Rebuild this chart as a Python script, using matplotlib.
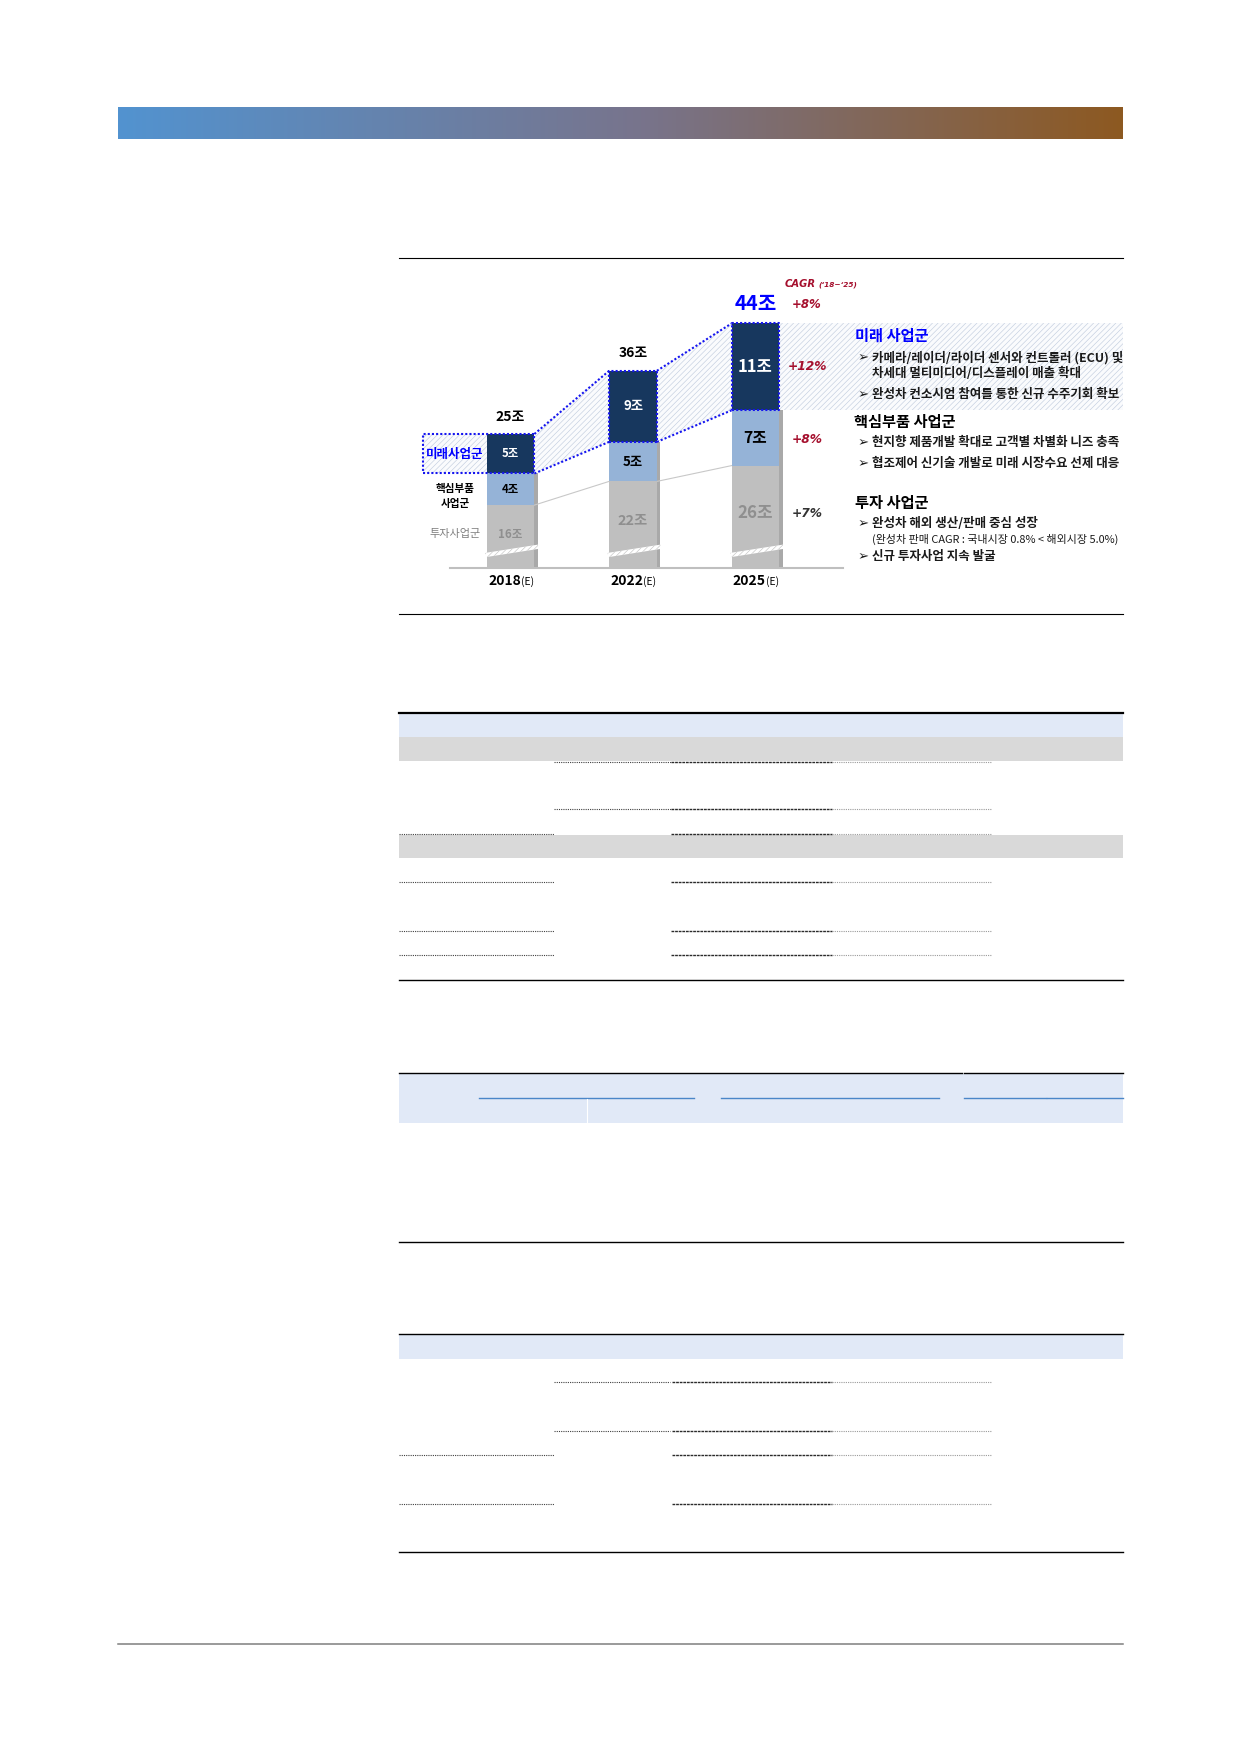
import numpy as np
import matplotlib
matplotlib.use("Agg")
import matplotlib.pyplot as plt
from matplotlib.patches import Polygon, Rectangle

plt.rcParams['font.family'] = ['Noto Sans CJK KR', 'DejaVu Sans']
plt.rcParams['hatch.linewidth'] = 0.45

# 사업군별 매출 (조 원)
years = ['2018', '2022', '2025']
invest = [16, 22, 26]     # 투자사업군
core = [4, 5, 7]          # 핵심부품 사업군
future = [5, 9, 11]       # 미래사업군
totals = [25, 36, 44]
cagr_total = '+8%'
cagr_seg = ['+12%', '+8%', '+7%']   # 미래, 핵심부품, 투자

NAVY = '#17375E'
LBLUE = '#95B3D7'
GRAY = '#BFBFBF'
DOT_BLUE = '#1515F0'
RED = '#A50F2D'
HATCH = '#C3CEDF'

fig = plt.figure(figsize=(12.4, 17.54), dpi=100)

# page background (pixel coords)
bg = fig.add_axes([0, 0, 1, 1])
bg.set_xlim(0, 1240)
bg.set_ylim(1754, 0)
bg.axis('off')

# header gradient bar
stops = np.array([[82, 147, 208], [120, 116, 140], [141, 89, 33]]) / 255
t = np.linspace(0, 1, 400)
grad = np.stack([np.interp(t, [0, 0.52, 1], stops[:, k]) for k in range(3)], axis=-1)
bg.imshow(grad[np.newaxis, :, :], extent=[118, 1123, 139, 107], aspect='auto', zorder=1)

# chart frame lines
bg.plot([399, 1123], [258, 258], color='black', lw=0.8)
bg.plot([399, 1123], [614.3, 614.3], color='black', lw=0.8)


def hline(y, x0, x1, style):
    if style == 'dark':
        bg.plot([x0, x1], [y, y], color='#404040', lw=0.8, ls=(0, (1, 1)))
    elif style == 'dense':
        bg.plot([x0, x1], [y, y], color='#2B2B2B', lw=1.0, ls=(0, (2, 0.6)))
    elif style == 'light':
        bg.plot([x0, x1], [y, y], color='#9A9A9A', lw=0.8, ls=(0, (1, 1)))


# table 1
bg.plot([399, 1123], [712.7, 712.7], color='black', lw=1.6)
bg.add_patch(Rectangle((399, 713.7), 724, 23, color='#E1E9F7', lw=0))
bg.add_patch(Rectangle((399, 736.7), 724, 24, color='#D9D9D9', lw=0))
bg.add_patch(Rectangle((399, 835), 724, 22.7, color='#D9D9D9', lw=0))
for y in [761.5, 809]:
    hline(y, 553.6, 670.7, 'dark')
    hline(y, 670.7, 832, 'dense')
    hline(y, 832, 991, 'light')
for y in [834.3, 882.3, 931, 955.3]:
    hline(y, 399, 553.6, 'dark')
    hline(y, 670.7, 832, 'dense')
    hline(y, 832, 991, 'light')
bg.plot([399, 1123], [980.3, 980.3], color='black', lw=1.0)

# table 2
bg.add_patch(Rectangle((399, 1074), 724, 48.7, color='#E1E9F7', lw=0))
bg.plot([399, 961.7], [1073.3, 1073.3], color='black', lw=1.0)
bg.plot([963.5, 1123], [1073.3, 1073.3], color='black', lw=1.0)
for x0, x1 in [(479, 694), (720.6, 938.8), (963.5, 1045.6), (1047, 1123)]:
    bg.plot([x0, x1], [1098.3, 1098.3], color='#4A86C8', lw=1.0)
bg.plot([586.7, 586.7], [1099, 1122.7], color='white', lw=0.8)
bg.plot([399, 1123], [1241.7, 1241.7], color='black', lw=1.0)

# table 3
bg.plot([399, 1123], [1334.3, 1334.3], color='black', lw=1.0)
bg.add_patch(Rectangle((399, 1335), 724, 23.7, color='#E1E9F7', lw=0))
for y in [1382.3, 1431]:
    hline(y, 553.6, 670, 'dark')
    hline(y, 672, 832, 'dense')
    hline(y, 832, 991, 'light')
for y in [1455.3, 1504.3]:
    hline(y, 399, 553.6, 'dark')
    hline(y, 672, 832, 'dense')
    hline(y, 832, 991, 'light')
bg.plot([399, 1123], [1552.3, 1552.3], color='black', lw=1.0)

# footer line
bg.plot([118, 1123], [1643.8, 1643.8], color='#7F7F7F', lw=1.1)

# ---- chart ----
X0, STEP = 510.5, 122.5       # bar centre of first year, spacing (px)
BASE, UNIT = 568.3, 7.9       # baseline (px), px per 조
BREAK = 0.5                   # broken axis: 투자사업군 drawn at half height

ax = fig.add_axes([399 / 1240, 1 - 614 / 1754, 724 / 1240, 356 / 1754])
ax.set_xlim((399 - X0) / STEP, (1123 - X0) / STEP)
ax.set_ylim((BASE - 614) / UNIT, (BASE - 258) / UNIT)
ax.axis('off')


def cx(px):
    return (px - X0) / STEP


def cy(py):
    return (BASE - py) / UNIT


x = np.arange(len(years))
w = 0.39
g = np.array(invest) * BREAK
c = np.array(core, dtype=float)
f = np.array(future, dtype=float)
bot = g + c
top = g + c + f

ax.bar(x + w / 2 + 0.014, bot, 0.028, color='#A9A9A9', zorder=2)
ax.bar(x, g, w, color=GRAY, zorder=3)
ax.bar(x, c, w, bottom=g, color=LBLUE, zorder=3)
ax.bar(x, f, w, bottom=bot, color=NAVY, zorder=3)

# axis break marks
for i in x:
    xa, xb = i - w / 2 - 0.012, i + w / 2 + 0.03
    ax.add_patch(Polygon([(xa, 1.4), (xb, 2.45), (xb, 3.0), (xa, 1.95)], closed=True,
                         facecolor='white', edgecolor='#C4C4C4', hatch='//////', lw=0, zorder=4))

# gray link lines between 투자사업군 tops
for i in range(len(x) - 1):
    ax.plot([i + w / 2, i + 1 - w / 2], [g[i], g[i + 1]], color='#C8C8C8', lw=0.8, zorder=2)

# hatched 미래사업군 bands
left_edge = cx(423.3)
xmax = ax.get_xlim()[1]
polys = [[(left_edge, bot[0]), (-w / 2, bot[0]), (-w / 2, top[0]), (left_edge, top[0])]]
for i in range(len(x) - 1):
    polys.append([(i + w / 2, bot[i]), (i + w / 2, top[i]),
                  (i + 1 - w / 2, top[i + 1]), (i + 1 - w / 2, bot[i + 1])])
polys.append([(x[-1] + w / 2, bot[-1]), (xmax, bot[-1]), (xmax, top[-1]), (x[-1] + w / 2, top[-1])])
for p in polys:
    ax.add_patch(Polygon(p, closed=True, facecolor='#FAFBFD', edgecolor=HATCH,
                         hatch='//////', lw=0, zorder=1))

# dotted blue outlines
dot = dict(color=DOT_BLUE, lw=1.5, ls=(0, (1, 1)), zorder=5)
for i in x:
    xl = left_edge if i == 0 else i - w / 2
    xr = i + w / 2
    ax.plot([xl, xr, xr, xl, xl], [bot[i], bot[i], top[i], top[i], bot[i]], **dot)
for i in range(len(x) - 1):
    ax.plot([i + w / 2, i + 1 - w / 2], [top[i], top[i + 1]], **dot)
    ax.plot([i + w / 2, i + 1 - w / 2], [bot[i], bot[i + 1]], **dot)

# baseline
ax.plot([cx(450), cx(842.7)], [0, 0], color=GRAY, lw=1.5, zorder=4)

# value labels
f_sizes = [8.2, 9.6, 12]
c_sizes = [8.2, 9.6, 11.3]
g_sizes = [8.3, 10.3, 12.2]
t_sizes = [10, 10, 14.5]
for i in x:
    ax.text(i, bot[i] + f[i] / 2, f'{future[i]}조', color='white', fontsize=f_sizes[i],
            fontweight='bold', ha='center', va='center', zorder=6)
    ax.text(i, g[i] + c[i] / 2, f'{core[i]}조', color='black', fontsize=c_sizes[i],
            fontweight='bold', ha='center', va='center', zorder=6)
    ax.text(i, g[i] * 0.54, f'{invest[i]}조', color='#8F8F8F', fontsize=g_sizes[i],
            fontweight='bold', ha='center', va='center', zorder=6)
    last = i == len(x) - 1
    ax.text(i, top[i] + (2.55 if last else 2.2), f'{totals[i]}조',
            color='#0000FF' if last else 'black', fontsize=t_sizes[i],
            fontweight='bold', ha='center', va='center', zorder=6)
    ax.text(i + 0.084, cy(581), years[i], fontsize=10, fontweight='bold',
            ha='right', va='center')
    ax.text(i + 0.084, cy(581.5), '(E)', fontsize=7.5, ha='left', va='center')

# left segment labels
ax.text(cx(455), cy(455), '미래사업군', color='#0000FF', fontsize=9, fontweight='bold',
        ha='center', va='center', zorder=6)
ax.text(cx(455), cy(489.3), '핵심부품', color='black', fontsize=7.6, fontweight='bold',
        ha='center', va='center', zorder=6)
ax.text(cx(455), cy(503.8), '사업군', color='black', fontsize=7.6, fontweight='bold',
        ha='center', va='center', zorder=6)
ax.text(cx(455), cy(534), '투자사업군', color='#808080', fontsize=8,
        ha='center', va='center', zorder=6)

# CAGR column
lat = ['DejaVu Sans']
ax.text(cx(785), cy(284), 'CAGR', color=RED, fontsize=7.2, family=lat, style='italic',
        fontweight='bold', ha='left', va='center')
ax.text(cx(818), cy(284.5), '(‘18~‘25)', color=RED, fontsize=5.3, family=lat, style='italic',
        fontweight='bold', ha='left', va='center')
ax.text(cx(806.7), cy(304.3), cagr_total, color=RED, fontsize=8.5, family=lat, style='italic',
        fontweight='bold', ha='center', va='center')
seg_mid = [bot[-1] + f[-1] / 2, g[-1] + c[-1] / 2 - 0.2, cy(514)]
for k, (lab, ym) in enumerate(zip(cagr_seg, seg_mid)):
    ax.text(cx(807), ym, lab, color=RED if k < 2 else '#333333', fontsize=8.8, family=lat,
            style='italic', fontweight='bold', ha='center', va='center', zorder=6)

# right side descriptions
arrow_x, text_x = cx(857.5), cx(871.7)
body = dict(fontsize=9.0, fontweight='bold', color='#1A1A1A', va='center', ha='left', zorder=6)


def bullet(py, s):
    ax.text(arrow_x, cy(py), '➢', fontsize=9.5, color='#1A1A1A', family=['DejaVu Sans'],
            va='center', ha='left', zorder=6)
    ax.text(text_x, cy(py), s, **body)


ax.text(cx(855), cy(336), '미래 사업군', color='#0000FF', fontsize=11, fontweight='bold',
        ha='left', va='center', zorder=6)
bullet(357.7, '카메라/레이더/라이더 센서와 컨트롤러 (ECU) 및')
ax.text(text_x, cy(373.3), '차세대 멀티미디어/디스플레이 매출 확대', **body)
bullet(395, '완성차 컨소시엄 참여를 통한 신규 수주기회 확보')

ax.text(cx(854), cy(422.3), '핵심부품 사업군', color='black', fontsize=11, fontweight='bold',
        ha='left', va='center', zorder=6)
bullet(442.7, '현지향 제품개발 확대로 고객별 차별화 니즈 충족')
bullet(463.3, '협조제어 신기술 개발로 미래 시장수요 선제 대응')

ax.text(cx(855), cy(503.3), '투자 사업군', color='black', fontsize=11, fontweight='bold',
        ha='left', va='center', zorder=6)
bullet(524, '완성차 해외 생산/판매 중심 성장')
ax.text(cx(872.3), cy(539), '(완성차 판매 CAGR : 국내시장 0.8% < 해외시장 5.0%)',
        fontsize=7.9, color='#1A1A1A', ha='left', va='center', zorder=6)
bullet(556.7, '신규 투자사업 지속 발굴')

fig.savefig('out.png', dpi=100)
